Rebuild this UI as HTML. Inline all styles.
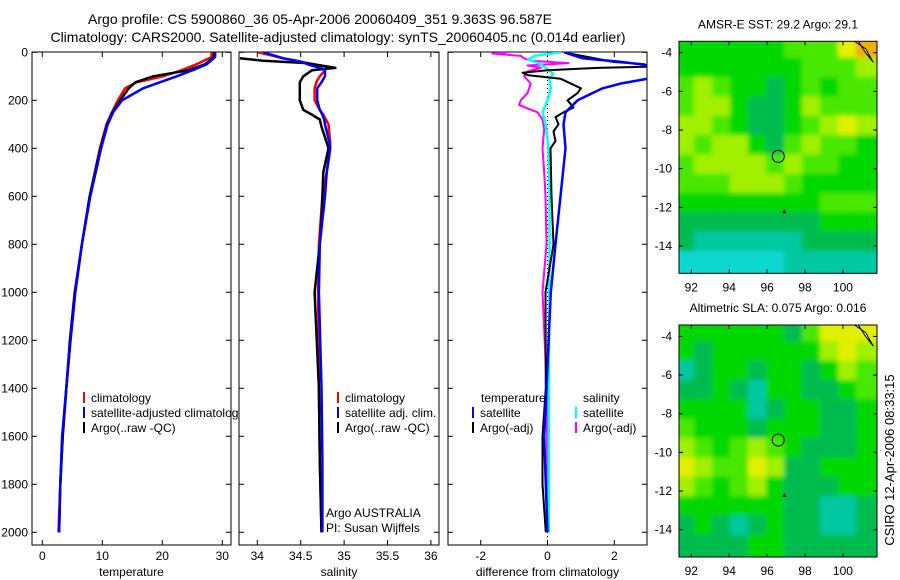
<!DOCTYPE html>
<html><head><meta charset="utf-8">
<style>
body{margin:0;background:#fff;}
svg{display:block;font-family:"Liberation Sans",sans-serif;}
</style></head>
<body>
<svg id="fig" width="900" height="580" viewBox="0 0 900 580" xmlns="http://www.w3.org/2000/svg">
<defs>
<clipPath id="c1"><rect x="32" y="52" width="199" height="493"/></clipPath>
<clipPath id="c2"><rect x="239" y="52" width="200" height="493"/></clipPath>
<clipPath id="c3"><rect x="448" y="52" width="199" height="493"/></clipPath>
<clipPath id="m1"><rect x="679" y="41" width="198" height="232"/></clipPath>
<clipPath id="m2"><rect x="679" y="325" width="198" height="232"/></clipPath>
<filter id="bl"><feGaussianBlur stdDeviation="2.5"/></filter>
</defs>
<text x="320" y="24" font-size="14" text-anchor="middle">Argo profile: CS 5900860_36 05-Apr-2006 20060409_351 9.363S 96.587E</text>
<text x="338" y="42" font-size="14" text-anchor="middle">Climatology: CARS2000. Satellite-adjusted climatology: synTS_20060405.nc (0.014d earlier)</text>
<g id="root"></g>
<text transform="translate(894,460) rotate(-90)" font-size="13" text-anchor="middle">CSIRO 12-Apr-2006 08:33:15</text>
</svg>
<script>
// ---------- data ----------
const tDepth=[0,20,50,75,100,125,150,200,250,300,400,600,800,1000,1200,1400,1600,1800,2000];
const tClim=[28.2,28.2,25.7,23.2,20.1,15.7,13.8,12.6,11.6,10.7,9.6,7.9,6.6,5.5,4.7,4.0,3.4,3.0,2.7];
const tSat=[28.8,28.8,27.4,25.0,22.4,19.6,16.8,13.3,11.8,10.9,9.8,8.0,6.6,5.5,4.7,4.0,3.3,3.0,2.8];
const tArgo=[28.6,28.6,27.1,24.3,18.5,15.5,14.4,13.0,11.7,10.8,9.7,7.9,6.6,5.4,4.6,4.0,3.4,3.0,2.8];
const sDepth=[0,25,35,45,50,65,75,100,125,150,200,240,260,280,300,375,400,450,500,600,800,1000,1400,1700,2000];
const sClim=[34.01,34.3,34.45,34.58,34.64,34.74,34.78,34.72,34.68,34.66,34.66,34.72,34.76,34.79,34.82,34.84,34.84,34.82,34.8,34.75,34.71,34.7,34.71,34.72,34.74];
const sSat=[34.07,34.3,34.45,34.55,34.58,34.72,34.78,34.78,34.74,34.69,34.69,34.72,34.75,34.77,34.78,34.83,34.84,34.82,34.8,34.78,34.72,34.71,34.74,34.75,34.75];
const aDepth=[25,35,45,65,75,100,125,150,200,240,260,280,310,400,500,700,800,1000,1400,1700,2000];
const sArgo=[33.8,34.07,34.57,34.9,34.63,34.53,34.49,34.49,34.49,34.53,34.63,34.72,34.74,34.82,34.76,34.74,34.72,34.66,34.71,34.72,34.74];
const dDepthB=[0,25,40,50,60,100,110,130,150,200,250,300,400,600,800,1000,1400,1600,1800,2000];
const dTempSat=[0.5,1.05,2.2,2.8,3.05,3.05,3.0,2.2,1.65,0.9,0.54,0.48,0.54,0.39,0.24,0.1,-0.03,-0.1,-0.05,0.0];
const dDepthK=[5,40,50,60,65,75,85,95,110,150,170,200,230,250,270,300,330,370,400,600,800,1000,1400,1600,1800,2000];
const dTempArgo=[0.66,1.97,2.9,3.05,1.5,0,-0.75,-0.6,0.39,1.0,0.9,0.6,0.78,0.48,0.24,0.33,0.18,0.24,0.09,0.12,0.18,-0.06,-0.05,-0.15,-0.15,-0.05];
const dDepthC=[0,15,30,50,70,90,110,150,200,250,300,400,600,800,1000,1400,2000];
const dSalSat=[0.4,-0.4,-0.57,-0.2,0,0.18,0.06,0.1,0,-0.15,-0.06,0.03,0.06,0.06,0.05,0.04,0.04];
const dDepthM=[0,5,15,25,35,45,55,65,80,100,130,170,200,220,250,280,320,400,500,600,800,1000,1400,2000];
const dSalArgo=[-1.2,-1.65,-0.8,-0.7,-0.5,0.63,-0.6,-0.2,-0.6,-0.7,-0.5,-0.6,-0.8,-0.85,-0.3,-0.15,-0.1,-0.15,-0.1,-0.06,-0.03,-0.15,-0.02,0];
const depthTicks=[0,200,400,600,800,1000,1200,1400,1600,1800,2000];
const tempTicks=[0,10,20,30];
const salTicks=[34,34.5,35,35.5,36];
const salTickLabels=["34","34.5","35","35.5","36"];
const diffTicks=[-2,0,2];
const lonTicks=[92,94,96,98,100];
const latTicks=[-4,-6,-8,-10,-12,-14];
const sstGrid=["33333344467","33333334445","45433234344","45532235444","55432234565","54553245443","45555454433","44455543333","33333333444","22222222333","21111112222","00000011111"];
const slaGrid=["33333324666","32333333565","12332332354","22321332234","33331233223","43332333223","54345432223","65446522333","54345322233","33333322112","23212322112","22223322222"];
const floatLon=96.587, floatLat=-9.363;

// ---------- helpers ----------
const NS="http://www.w3.org/2000/svg";
const root=document.getElementById('root');
function mk(tag,attrs,parent){const e=document.createElementNS(NS,tag);for(const k in attrs)e.setAttribute(k,attrs[k]);(parent||root).appendChild(e);return e;}
const yD=d=>52.3+d*0.24;
const xT=v=>42.3+v*6.0;
const xS=v=>257.3+(v-34)*86.8;
const xDf=v=>547.5+v*33.4;
const lonX=lon=>679+(lon-91.35)*18.95;
const latY1=lat=>41.3+(-3.41-lat)*19.33;
const latY2=lat=>325+(-3.41-lat)*19.33;

function panel(x0,x1,clip,name){
  const r=mk('rect',{x:x0,y:52,width:x1-x0,height:493,fill:'#fff',stroke:'#000','stroke-width':1});
  
  
  depthTicks.forEach(d=>{
    mk('line',{x1:x0,x2:x0+5,y1:yD(d),y2:yD(d),stroke:'#000'});
    mk('line',{x1:x1-5,x2:x1,y1:yD(d),y2:yD(d),stroke:'#000'});
  });
}
function xticks(vals,labels,fx,x0,x1,title,name){
  vals.forEach((v,i)=>{
    const x=fx(v);
    mk('line',{x1:x,x2:x,y1:52,y2:57,stroke:'#000'});
    mk('line',{x1:x,x2:x,y1:540,y2:545,stroke:'#000'});
    const t=mk('text',{x:x,y:560,'font-size':12,'text-anchor':'middle'});
    t.textContent=labels[i];
    
    
  });
  const tt=mk('text',{x:(x0+x1)/2,y:576,'font-size':12,'text-anchor':'middle'});
  tt.textContent=title;
  
  
}
function series(depths,vals,fx,color,w,clip,name){
  const pts=depths.map((d,i)=>fx(vals[i]).toFixed(1)+','+yD(d).toFixed(1)).join(' ');
  const p=mk('polyline',{points:pts,fill:'none',stroke:color,'stroke-width':w,'clip-path':'url(#'+clip+')','stroke-linejoin':'round'});
  
  
}
function legend(x,y,color,label,name){
  mk('line',{x1:x,x2:x,y1:y-10,y2:y+1,stroke:color,'stroke-width':2});
  const t=mk('text',{x:x+7,y:y,'font-size':12});
  t.textContent=label;
  
  
}

// ---------- panel 1 ----------
panel(32,231,'c1','temperature-panel');
depthTicks.forEach(d=>{const t=mk('text',{x:28,y:yD(d)+4,'font-size':12,'text-anchor':'end'});t.textContent=d;
  
  });
xticks(tempTicks,tempTicks.map(String),xT,32,231,'temperature','temperature');
series(tDepth,tClim,xT,'#ff0000',2.5,'c1','temp-climatology-line');
series(tDepth,tArgo,xT,'#000000',2.5,'c1','temp-argo-line');
series(tDepth,tSat,xT,'#0000ff',2.5,'c1','temp-satellite-line');
legend(84,402,'#f00','climatology','legend-climatology');
legend(84,417,'#00f','satellite-adjusted climatology','legend-satellite');
legend(84,432,'#000','Argo(..raw -QC)','legend-argo');

// ---------- panel 2 ----------
panel(239,439,'c2','salinity-panel');
xticks(salTicks,salTickLabels,xS,239,439,'salinity','salinity');
series(sDepth,sClim,xS,'#ff0000',2.5,'c2','sal-climatology-line');
series(aDepth,sArgo,xS,'#000000',2.5,'c2','sal-argo-line');
series(sDepth,sSat,xS,'#0000ff',2.5,'c2','sal-satellite-line');
legend(338,402,'#f00','climatology','legend2-climatology');
legend(338,417,'#00f','satellite adj. clim.','legend2-satellite');
legend(338,432,'#000','Argo(..raw -QC)','legend2-argo');
let t1=mk('text',{x:326,y:517,'font-size':12});t1.textContent='Argo AUSTRALIA';


let t2=mk('text',{x:326,y:532,'font-size':12});t2.textContent='PI: Susan Wijffels';



// ---------- panel 3 ----------
panel(448,647,'c3','difference-panel');
xticks(diffTicks,diffTicks.map(String),xDf,448,647,'difference from climatology','difference');
mk('line',{x1:xDf(0),x2:xDf(0),y1:52,y2:545,stroke:'#000','stroke-dasharray':'1,3','stroke-width':1});
series(dDepthM,dSalArgo,xDf,'#ff00ff',2,'c3','diff-sal-argo-line');
series(dDepthC,dSalSat,xDf,'#00ffff',2.5,'c3','diff-sal-satellite-line');
series(dDepthK,dTempArgo,xDf,'#000000',2,'c3','diff-temp-argo-line');
series(dDepthB,dTempSat,xDf,'#0000ff',2.5,'c3','diff-temp-satellite-line');
let lt=mk('text',{x:481,y:402,'font-size':12});lt.textContent='temperature';


let ls=mk('text',{x:583,y:402,'font-size':12});ls.textContent='salinity';


legend(473,417,'#00f','satellite','legend3-temp-satellite');
legend(473,432,'#000','Argo(-adj)','legend3-temp-argo');
legend(576,417,'#0ff','satellite','legend3-sal-satellite');
legend(576,432,'#f0f','Argo(-adj)','legend3-sal-argo');

// ---------- maps ----------
const pal=['#10d8d0','#00c8a0','#00bc50','#00d800','#48e800','#a0f000','#e0f000','#f0b000','#ffffff'];
function map(grid,top,clip,latY,title,name){
  const tt=mk('text',{x:778,y:top-13,'font-size':12,'text-anchor':'middle'});tt.textContent=title;
  
  
  const g=mk('g',{'clip-path':'url(#'+clip+')'});
  const gi=mk('g',{filter:'url(#bl)'},g);
  const nr=grid.length,nc=grid[0].length;
  const cw=198/nc+0.5,ch=232/nr;
  grid.forEach((row,r)=>{for(let c=0;c<nc;c++){
    const cell=mk('rect',{x:679+c*198/nc-3,y:top+r*ch-3,width:cw+6,height:ch+6,fill:pal[+row[c]]},gi);
    
    
  }});
  mk('polyline',{points:`${lonX(100.8)},${latY(-3.4)} ${lonX(101.2)},${latY(-4.0)} ${lonX(101.6)},${latY(-4.5)} ${lonX(101.2)},${latY(-3.8)} ${lonX(100.6)},${latY(-3.4)}`,fill:'#fff',stroke:'#000','stroke-width':1},g);
  const c=mk('circle',{cx:lonX(floatLon),cy:latY(floatLat),r:6,fill:'none',stroke:'#000'});
  
  
  mk('polygon',{points:`${lonX(96.9)-2},${latY(-12.2)+2} ${lonX(96.9)+2},${latY(-12.2)+2} ${lonX(96.9)},${latY(-12.2)-2}`,fill:'#000'});
  mk('rect',{x:679,y:top,width:198,height:232,fill:'none',stroke:'#000'});
  lonTicks.forEach(l=>{const x=lonX(l);
    mk('line',{x1:x,x2:x,y1:top+232,y2:top+228,stroke:'#000'});
    mk('line',{x1:x,x2:x,y1:top,y2:top+4,stroke:'#000'});
    const t=mk('text',{x:x,y:top+250,'font-size':12,'text-anchor':'middle'});t.textContent=l;
    
    });
  latTicks.forEach(l=>{const y=latY(l);
    mk('line',{x1:679,x2:683,y1:y,y2:y,stroke:'#000'});
    mk('line',{x1:873,x2:877,y1:y,y2:y,stroke:'#000'});
    const t=mk('text',{x:672,y:y+4,'font-size':12,'text-anchor':'end'});t.textContent=l;
    
    });
}
map(sstGrid,41.3,'m1',latY1,'AMSR-E SST: 29.2 Argo: 29.1','sst-map');
map(slaGrid,325,'m2',latY2,'Altimetric SLA: 0.075 Argo: 0.016','sla-map');
</script>
</body></html>
